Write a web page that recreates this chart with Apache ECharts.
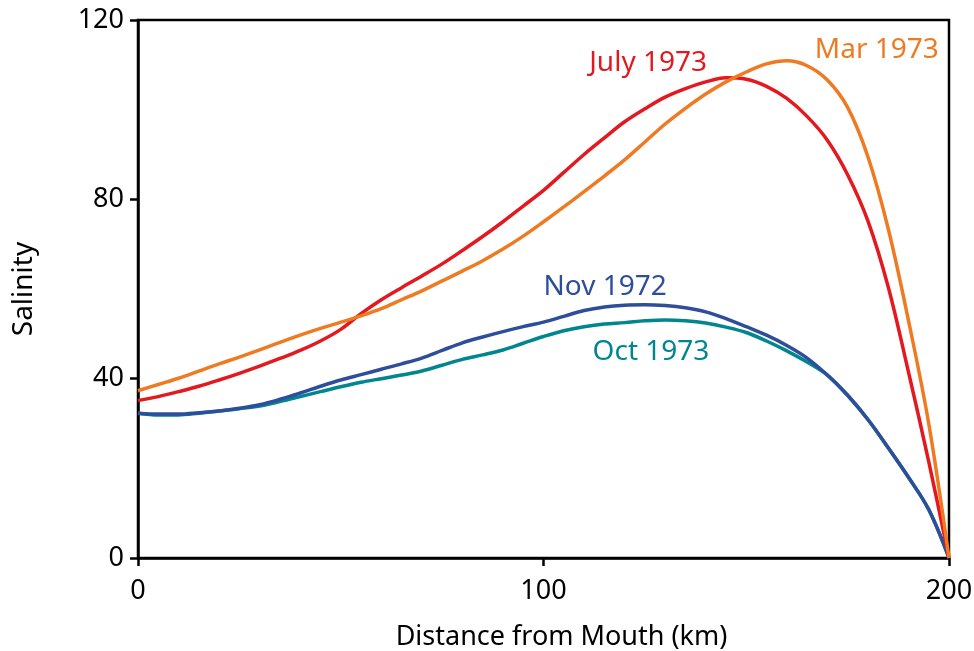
<!DOCTYPE html>
<html><head><meta charset="utf-8">
<script src="https://cdn.jsdelivr.net/npm/echarts@6/dist/echarts.min.js"></script>
<style>html,body{margin:0;padding:0;background:#fff}#c{width:974px;height:651px}</style>
</head><body><div id="c"></div>
<script>
const distance = [0,5,10,15,20,25,30,35,40,45,50,55,60,65,70,75,80,85,90,95,100,105,110,115,120,125,130,135,140,145,150,155,160,165,170,175,180,185,190,195,200];
const mar1973  = [37.3,38.7,40.1,41.7,43.3,44.8,46.4,48.1,49.7,51.2,52.6,54.0,55.6,57.6,59.6,61.8,64.0,66.3,68.9,71.8,75.0,78.3,81.7,85.2,88.8,92.8,96.8,100.3,103.5,106.2,108.4,110.2,110.9,109.8,106.6,100.5,89.5,73.5,53.0,30.0,0];
const july1973 = [35.1,36.0,37.1,38.3,39.7,41.2,42.8,44.5,46.3,48.4,51.0,54.5,57.6,60.3,62.9,65.6,68.6,71.7,75.0,78.5,82.0,86.0,90.0,93.7,97.3,100.2,102.8,104.7,106.2,107.1,106.8,105.2,102.5,98.5,93.2,85.5,75.2,60.5,41.5,21.5,0];
const nov1972  = [32.3,32.1,32.1,32.4,32.8,33.4,34.2,35.4,36.8,38.3,39.7,40.9,42.1,43.3,44.6,46.3,48.0,49.3,50.5,51.6,52.6,53.9,55.2,56.0,56.4,56.5,56.3,55.8,54.9,53.4,51.6,49.7,47.4,44.6,40.8,36.3,30.9,24.6,18.0,10.8,0];
const oct1973  = [32.3,31.9,31.9,32.3,32.8,33.3,33.9,34.9,36.0,37.1,38.2,39.2,40.0,40.8,41.7,43.0,44.3,45.3,46.4,47.9,49.4,50.7,51.6,52.2,52.5,52.9,53.1,52.9,52.4,51.5,50.3,48.4,46.2,43.7,40.8,36.3,30.9,24.6,18.0,10.8,0];
const seriesNames = ['Mar 1973','July 1973','Nov 1972','Oct 1973'];
const labelPos = [[182.2,113.3],[125.8,110.4],[115.2,60.4],[126.5,46]];
const yTicks = [0,40,80,120];
const xTicks = [0,100,200];

const colors = ['#f07a22','#e3191f','#2e4e9c','#00868f'];
const values = [mar1973, july1973, nov1972, oct1973];
const FONT = 'Noto Sans';
const chart = echarts.init(document.getElementById('c'));
chart.setOption({
  animation:false,
  grid:{left:138,right:25,top:20,bottom:93,show:true,borderColor:'#000',borderWidth:2.5,outerBoundsMode:'none',containLabel:false},
  xAxis:{type:'value',min:xTicks[0],max:xTicks[xTicks.length-1],interval:100,
    name:'Distance from Mouth (km)',nameLocation:'middle',nameGap:66,
    nameTextStyle:{color:'#000',fontSize:27,fontFamily:FONT,padding:[0,0,0,36]},
    axisLine:{lineStyle:{color:'#000',width:2.5}},
    axisTick:{show:true,length:8,lineStyle:{color:'#000',width:2.5}},
    axisLabel:{color:'#000',fontSize:27,fontFamily:FONT,margin:20},
    splitLine:{show:false}},
  yAxis:{type:'value',min:yTicks[0],max:yTicks[yTicks.length-1],interval:40,
    name:'Salinity',nameLocation:'middle',nameGap:100,
    nameTextStyle:{color:'#000',fontSize:28,fontFamily:FONT},
    axisLine:{show:true,lineStyle:{color:'#000',width:2.5}},
    axisTick:{show:true,length:8,lineStyle:{color:'#000',width:2.5}},
    axisLabel:{color:'#000',fontSize:27,fontFamily:FONT,margin:14},
    splitLine:{show:false}},
  series: values.map((v,i)=>({
    type:'line',name:seriesNames[i],smooth:0.35,showSymbol:false,
    data: distance.map((d,j)=>[d,v[j]]),
    lineStyle:{color:colors[i],width:3.5},
    z: 10-i,
    markPoint:{symbol:'circle',symbolSize:0,silent:true,
      data:[{coord:labelPos[i],label:{show:true,formatter:seriesNames[i],color:colors[i],fontSize:28,fontFamily:FONT,position:'inside'}}]}
  }))
});
</script></body></html>
